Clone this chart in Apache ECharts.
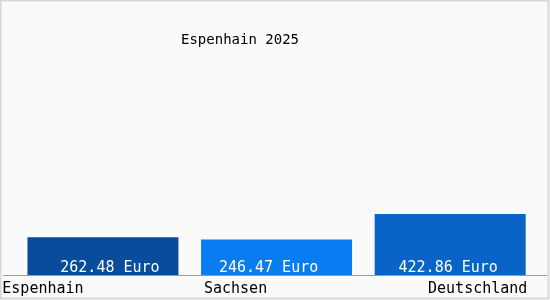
<!DOCTYPE html>
<html><head><meta charset="utf-8">
<script src="https://cdn.jsdelivr.net/npm/echarts@6/dist/echarts.min.js"></script>
<style>html,body{margin:0;padding:0;background:#fff}#c{width:550px;height:300px}</style>
</head><body><div id="c"></div>
<script>
var title = 'Espenhain 2025';
var categories = ['Espenhain', 'Sachsen', 'Deutschland'];
var values = [262.48, 246.47, 422.86];
var unit = 'Euro';

var colors = ['#084c9c', '#0a7cf2', '#0a64c8'];
var labelOffsets = [[7, 1], [-8, 1], [-2, 1]];
var richKeys = ['a', 'b', 'c'];

var chart = echarts.init(document.getElementById('c'), null, {renderer: 'canvas'});
var font = '"DejaVu Sans Mono", monospace';
chart.setOption({
  backgroundColor: '#fafafa',
  animation: false,
  title: {
    text: title, left: 176, top: 28,
    textStyle: {fontFamily: font, fontSize: 14, fontWeight: 'normal', color: '#000'}
  },
  grid: {left: 12, right: 13, top: 59, bottom: 25, containLabel: false},
  xAxis: {
    type: 'category', data: categories,
    axisLine: {show: false}, axisTick: {show: false},
    axisLabel: {
      interval: 0, margin: 7,
      formatter: function (v, i) { return '{' + richKeys[i] + '|' + v + '}'; },
      rich: {
        a: {fontFamily: font, fontSize: 15, color: '#000', padding: [0, 120, 0, 0]},
        b: {fontFamily: font, fontSize: 15, color: '#000', padding: [0, 82, 0, 0]},
        c: {fontFamily: font, fontSize: 15, color: '#000', padding: [0, 0, 0, 55]}
      }
    }
  },
  yAxis: {type: 'value', min: 0, max: 1500, show: false, splitLine: {show: false}},
  series: [{
    type: 'bar', barWidth: 151,
    data: values.map(function (v, i) {
      return {value: v, itemStyle: {color: colors[i]}, label: {offset: labelOffsets[i]}};
    }),
    label: {
      show: true, position: 'insideBottom', distance: 0,
      fontFamily: font, fontSize: 15, color: '#fff',
      formatter: function (p) { return p.value.toFixed(2) + ' ' + unit; }
    }
  }],
  graphic: [
    {type: 'rect', shape: {x: 0.5, y: 0.5, width: 548, height: 298}, style: {fill: null, stroke: '#d8d8d8', lineWidth: 2}, z: 100},
    {type: 'line', shape: {x1: 3, y1: 275.5, x2: 547, y2: 275.5}, style: {stroke: '#999', lineWidth: 1}, z: 100}
  ]
});
</script></body></html>
